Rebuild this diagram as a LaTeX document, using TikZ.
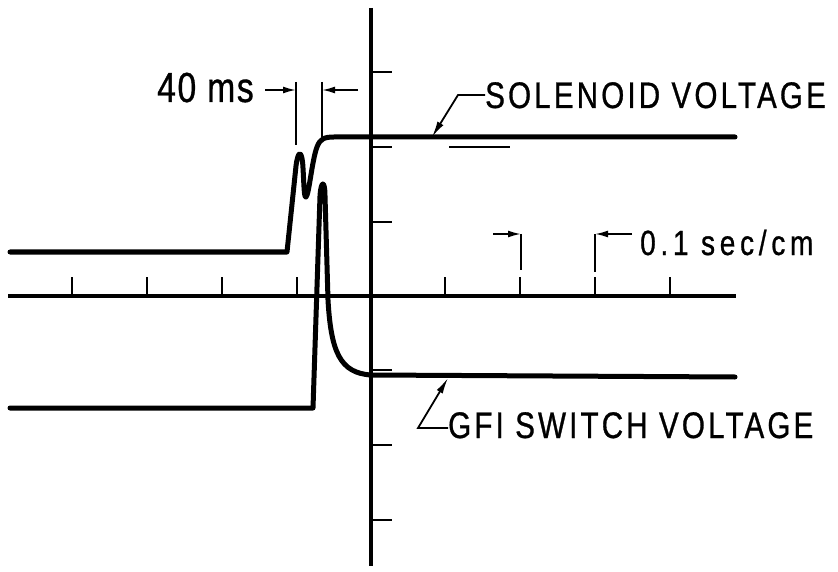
\documentclass[tikz,border=0pt]{standalone}
\usepackage{fontspec}
\newfontfamily\lblfont[FakeStretch=0.80,LetterSpace=8.5,FakeBold=0.8]{Liberation Sans}
\newfontfamily\widefont[FakeStretch=0.80,LetterSpace=13.5,FakeBold=0.8]{Liberation Sans}
\newfontfamily\msfont[FakeStretch=0.80,LetterSpace=4,FakeBold=0.8]{Liberation Sans}
\usetikzlibrary{arrows.meta}
\begin{document}
\begin{tikzpicture}[x=1pt,y=-1pt,
  trace/.style={line width=5pt, line cap=round, line join=round},
  axisline/.style={line width=3.2pt},
  tickline/.style={line width=2pt},
  leader/.style={line width=1.8pt},
  dimarrow/.style={leader, -{Latex[length=13pt,width=7pt]}},
  leadarrow/.style={leader, -{Latex[length=16pt,width=7pt]}},
  lbl/.style={inner sep=0pt, anchor=base west, font=\lblfont\fontsize{37}{42}\selectfont}]
\useasboundingbox (0,0) rectangle (838,572);

% axes
\coordinate (vtop) at (371,8);
\coordinate (vbot) at (371,566);
\coordinate (hl) at (8,296);
\coordinate (hr) at (736,296);
\draw[axisline] (vtop) -- (vbot);
\draw[axisline] (hl) -- (hr);
\foreach \x in {72,147,222,297,445,520,595,670}
  \draw[tickline] (\x,296) -- (\x,277);
\foreach \y in {72,147,222,370,445,520}
  \draw[tickline] (371,\y) -- (392,\y);

% solenoid trace
\draw[trace] (10,252) -- (287,252) -- (296,166)
  .. controls (298,150) and (302,149) .. (303,168)
  .. controls (304,185) and (304,198) .. (306,197)
  .. controls (309,195) and (312,160) .. (317,147)
  .. controls (320,139) and (324,137) .. (334,137) -- (735,137);
\coordinate (solpt) at (432,137);

% GFI trace
\draw[trace] (10,408) -- (313,408) -- (320,196)
  .. controls (321,180) and (325,180) .. (325,196)
  -- (328,300)
  .. controls (331,352) and (340,373) .. (371,375) -- (735,377);
\coordinate (gfipt) at (448,378);

% stray thin line below solenoid trace
\coordinate (sa) at (449,147);
\coordinate (sb) at (510,147);
\draw[line width=1.2pt] (sa) -- (sb);

% labels
\node[lbl] (sol) at (485,108) {SOLENOID VOLTAGE};
\node[lbl] (gfi) at (448,438) {GFI SWITCH VOLTAGE};
\node[lbl, font=\widefont\fontsize{35}{40}\selectfont] (scale) at (640,255) {0.1 sec/cm};
\node[lbl, font=\msfont\fontsize{42}{46}\selectfont] (ms) at (157,102) {40 ms};

% leaders
\coordinate (solk) at (458,95);
\draw[leadarrow] (sol.west |- 0,95) -- (solk) -- (solpt);
\coordinate (gfik) at (418,428);
\draw[leadarrow] (gfi.west |- 0,428) -- (gfik) -- (gfipt);

% 40 ms dimension
\coordinate (m1t) at (296,82); \coordinate (m1b) at (296,145);
\coordinate (m2t) at (322,82); \coordinate (m2b) at (322,140);
\draw[leader] (m1t) -- (m1b);
\draw[leader] (m2t) -- (m2b);
\coordinate (m1a) at (265,90); \coordinate (m1e) at (296,90);
\coordinate (m2a) at (358,90); \coordinate (m2e) at (322,90);
\draw[dimarrow] (m1a) -- (m1e);
\draw[dimarrow] (m2a) -- (m2e);

% 0.1 sec/cm dimension
\coordinate (s1t) at (521,234); \coordinate (s1b) at (521,270);
\coordinate (s2t) at (595,234); \coordinate (s2b) at (595,272);
\draw[leader] (s1t) -- (s1b);
\draw[leader] (s2t) -- (s2b);
\coordinate (s1a) at (493,234);
\coordinate (s2a) at (632,234);
\draw[dimarrow] (s1a) -- (s1t);
\draw[dimarrow] (s2a) -- (s2t);
\end{tikzpicture}
\end{document}
